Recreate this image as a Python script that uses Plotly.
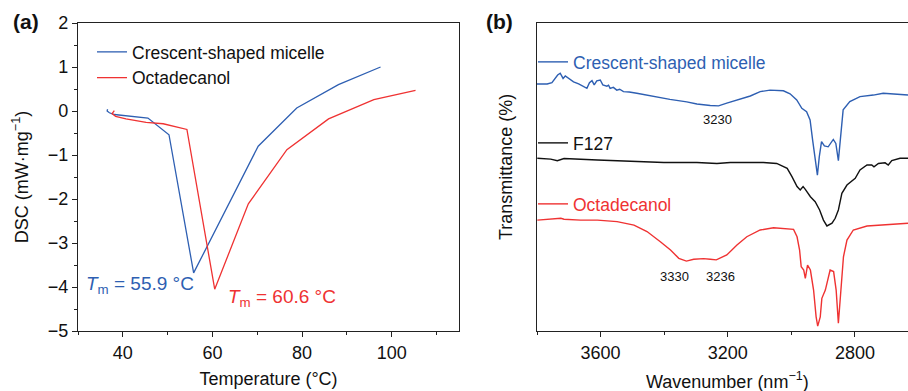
import plotly.graph_objects as go

# ---------------- Panel (a): DSC ----------------
temp_micelle = [36.6, 36.5, 37.0, 38.1, 45.6, 50.3, 55.8, 70.2, 78.8, 88.1, 97.5]
dsc_micelle = [0.04, 0.0, -0.04, -0.08, -0.16, -0.54, -3.68, -0.80, 0.07, 0.60, 1.00]

temp_octa = [38.1, 37.6, 38.4, 40.7, 45.2, 49.0, 54.3, 60.5, 68.0, 76.6, 85.9, 96.0, 105.3]
dsc_octa = [0.01, -0.06, -0.12, -0.18, -0.26, -0.29, -0.42, -4.05, -2.11, -0.88, -0.18, 0.26, 0.47]

tm_labels = ["<i>T</i><sub>m</sub> = 55.9 °C", "<i>T</i><sub>m</sub> = 60.6 °C"]
tm_pos_x = [31.3, 63.0]
tm_pos_y = [-3.95, -4.25]

# ---------------- Panel (b): FTIR ----------------
wn_micelle = [3800, 3768, 3753, 3742, 3735, 3727, 3718, 3711, 3700, 3685, 3669, 3653, 3643, 3635,
              3627, 3620, 3612, 3601, 3593, 3580, 3575, 3570, 3560, 3549, 3540, 3528, 3510, 3486,
              3434, 3382, 3329, 3297, 3255, 3229, 3203, 3171, 3129, 3098, 3067, 3025, 3004, 2983,
              2967, 2952, 2941, 2933, 2925, 2918, 2912, 2905, 2896, 2884, 2868, 2860, 2852, 2845,
              2837, 2816, 2784, 2742, 2711, 2633]
tr_micelle = [80.2, 80.2, 80.6, 82.0, 83.1, 83.7, 82.0, 82.8, 82.0, 80.9, 80.2, 79.3, 78.8, 80.6,
              81.3, 79.9, 81.2, 81.5, 79.9, 79.5, 79.8, 78.8, 79.1, 78.2, 78.5, 77.7, 77.6, 77.2,
              76.1, 75.2, 74.4, 73.7, 73.2, 73.1, 74.0, 75.0, 76.3, 77.7, 78.2, 78.0, 77.0, 75.0,
              72.3, 71.2, 68.5, 62.0, 55.5, 50.6, 56.6, 61.5, 60.1, 59.8, 62.2, 60.9, 55.3, 64.2,
              71.8, 74.5, 76.1, 76.6, 77.2, 76.6]

wn_f127 = [3799, 3757, 3736, 3715, 3610, 3506, 3401, 3297, 3234, 3192, 3088, 3046, 3034, 3013,
           2998, 2982, 2972, 2963, 2956, 2940, 2925, 2911, 2899, 2888, 2872, 2862, 2852, 2841,
           2825, 2810, 2799, 2784, 2762, 2747, 2740, 2726, 2705, 2695, 2684, 2658, 2633]
tr_f127 = [56.1, 55.8, 55.3, 56.0, 55.5, 55.0, 54.7, 54.7, 54.4, 54.7, 54.7, 54.4, 53.9, 52.8,
           50.1, 46.9, 45.8, 46.9, 46.0, 43.6, 42.0, 39.3, 36.0, 34.1, 35.0, 36.6, 39.3, 44.7,
           47.4, 48.5, 49.6, 52.3, 53.9, 53.9, 53.3, 54.4, 54.6, 53.9, 55.3, 56.1, 56.1]

wn_octa = [3799, 3757, 3725, 3715, 3663, 3610, 3548, 3495, 3454, 3412, 3380, 3354, 3330, 3307,
           3276, 3255, 3236, 3203, 3171, 3140, 3098, 3056, 3034, 2993, 2982, 2974, 2969, 2961,
           2956, 2949, 2940, 2930, 2922, 2917, 2909, 2904, 2893, 2883, 2878, 2867, 2859, 2852,
           2843, 2836, 2825, 2805, 2762, 2721, 2633]
tr_octa = [36.0, 36.3, 36.6, 36.3, 36.0, 36.0, 35.5, 34.4, 32.3, 29.0, 26.3, 23.6, 22.7, 23.3,
           23.5, 23.3, 23.1, 24.7, 27.9, 30.6, 32.8, 33.5, 33.3, 33.0, 30.6, 26.3, 20.9, 19.8,
           17.1, 21.4, 19.8, 13.3, 4.6, 1.6, 4.6, 10.6, 13.3, 17.6, 19.8, 19.3, 13.3, 2.5,
           13.3, 24.1, 29.5, 32.8, 34.1, 34.4, 35.0]

peak_labels = ["3230", "3330", "3236"]
peak_x = [3233, 3366, 3223]
peak_y = [68.7, 17.6, 17.6]

BLUE = "#2e5fb2"
RED = "#ef3232"
BLACK = "#111111"
FONT = "Arial, Liberation Sans, sans-serif"
AX = "#222222"

fig = go.Figure()

fig.add_trace(go.Scatter(x=temp_micelle, y=dsc_micelle, mode="lines", name="Crescent-shaped micelle",
                         line=dict(color=BLUE, width=1.3), xaxis="x", yaxis="y", legend="legend"))
fig.add_trace(go.Scatter(x=temp_octa, y=dsc_octa, mode="lines", name="Octadecanol",
                         line=dict(color=RED, width=1.3), xaxis="x", yaxis="y", legend="legend"))

fig.add_trace(go.Scatter(x=wn_micelle, y=tr_micelle, mode="lines", name="Crescent-shaped micelle",
                         line=dict(color=BLUE, width=1.4), xaxis="x2", yaxis="y2", legend="legend2"))
fig.add_trace(go.Scatter(x=wn_f127, y=tr_f127, mode="lines", name="F127",
                         line=dict(color=BLACK, width=1.4), xaxis="x2", yaxis="y2", legend="legend3"))
fig.add_trace(go.Scatter(x=wn_octa, y=tr_octa, mode="lines", name="Octadecanol",
                         line=dict(color=RED, width=1.4), xaxis="x2", yaxis="y2", legend="legend4"))

W, H = 908, 391
ytop = 1 - 23 / H
ybot = 1 - 331 / H

annotations = []
for txt, xx, yy, col in zip(tm_labels, tm_pos_x, tm_pos_y, [BLUE, RED]):
    annotations.append(dict(text=txt, x=xx, y=yy, xref="x", yref="y", xanchor="left", yanchor="middle",
                            showarrow=False, font=dict(family=FONT, size=19, color=col)))
for txt, xx, yy in zip(peak_labels, peak_x, peak_y):
    annotations.append(dict(text=txt, x=xx, y=yy, xref="x2", yref="y2", xanchor="center", yanchor="middle",
                            showarrow=False, font=dict(family=FONT, size=13, color=BLACK)))
annotations.append(dict(text="<b>(a)</b>", x=26 / W, y=1 - 22 / H, xref="paper", yref="paper",
                        xanchor="center", yanchor="middle", showarrow=False,
                        font=dict(family=FONT, size=21, color=BLACK)))
annotations.append(dict(text="<b>(b)</b>", x=500 / W, y=1 - 22 / H, xref="paper", yref="paper",
                        xanchor="center", yanchor="middle", showarrow=False,
                        font=dict(family=FONT, size=21, color=BLACK)))
annotations.append(dict(text="Transmittance (%)", x=506 / W, y=1 - 167 / H, xref="paper", yref="paper",
                        xanchor="center", yanchor="middle", textangle=-90, showarrow=False,
                        font=dict(family=FONT, size=18, color=BLACK)))
annotations.append(dict(text="Wavenumber (nm<sup>−1</sup>)", x=727 / W, y=1 - 380 / H, xref="paper", yref="paper",
                        xanchor="center", yanchor="middle", showarrow=False,
                        font=dict(family=FONT, size=18, color=BLACK)))

common_ax = dict(showline=True, linecolor=AX, linewidth=1.2, showgrid=False, zeroline=False,
                 ticks="outside", ticklen=5, tickwidth=1.2, tickcolor=AX, automargin=False,
                 tickfont=dict(family=FONT, size=18, color=BLACK))

leg_common = dict(bgcolor="rgba(0,0,0,0)", borderwidth=0, xanchor="left", yanchor="middle",
                  itemwidth=30, tracegroupgap=0)

fig.update_layout(
    width=W, height=H,
    margin=dict(l=0, r=0, t=0, b=0),
    paper_bgcolor="white", plot_bgcolor="white",
    font=dict(family=FONT, color=BLACK),
    showlegend=True,
    xaxis=dict(domain=[78 / W, 459 / W], range=[30, 115], dtick=20, tick0=0, mirror=True,
               minor=dict(dtick=10, tick0=0, ticklen=3, tickwidth=1.2, tickcolor=AX, ticks="outside"),
               title=dict(text="Temperature (°C)", font=dict(family=FONT, size=18, color=BLACK), standoff=10),
               anchor="y", **common_ax),
    yaxis=dict(domain=[ybot, ytop], range=[-5, 2], dtick=1, tick0=0, mirror=True,
               minor=dict(dtick=0.5, tick0=0, ticklen=3, tickwidth=1.2, tickcolor=AX, ticks="outside"),
               title=dict(text="DSC (mW·mg<sup>−1</sup>)", font=dict(family=FONT, size=18, color=BLACK), standoff=14),
               anchor="x", **common_ax),
    xaxis2=dict(domain=[537 / W, 1.0], range=[3800, 2633], dtick=400, tick0=2800, mirror=True,
                minor=dict(dtick=200, tick0=2800, ticklen=3, tickwidth=1.2, tickcolor=AX, ticks="outside"),
                anchor="y2", **common_ax),
    yaxis2=dict(domain=[ybot, ytop], range=[0, 100], showticklabels=False, showline=True, linecolor=AX,
                linewidth=1.2, showgrid=False, zeroline=False, ticks="", automargin=False, mirror=False,
                anchor="x2"),
    legend=dict(x=92 / W, y=1 - 65 / H, font=dict(family=FONT, size=17.5, color=BLACK), **leg_common),
    legend2=dict(x=533 / W, y=1 - 62 / H, font=dict(family=FONT, size=17.5, color=BLUE), **leg_common),
    legend3=dict(x=533 / W, y=1 - 143 / H, font=dict(family=FONT, size=17.5, color=BLACK), **leg_common),
    legend4=dict(x=533 / W, y=1 - 204 / H, font=dict(family=FONT, size=17.5, color=RED), **leg_common),
    annotations=annotations,
)

fig.write_html("out.html", config={"displayModeBar": False},
               post_script="document.body.style.margin='0';document.body.style.overflow='hidden';")
